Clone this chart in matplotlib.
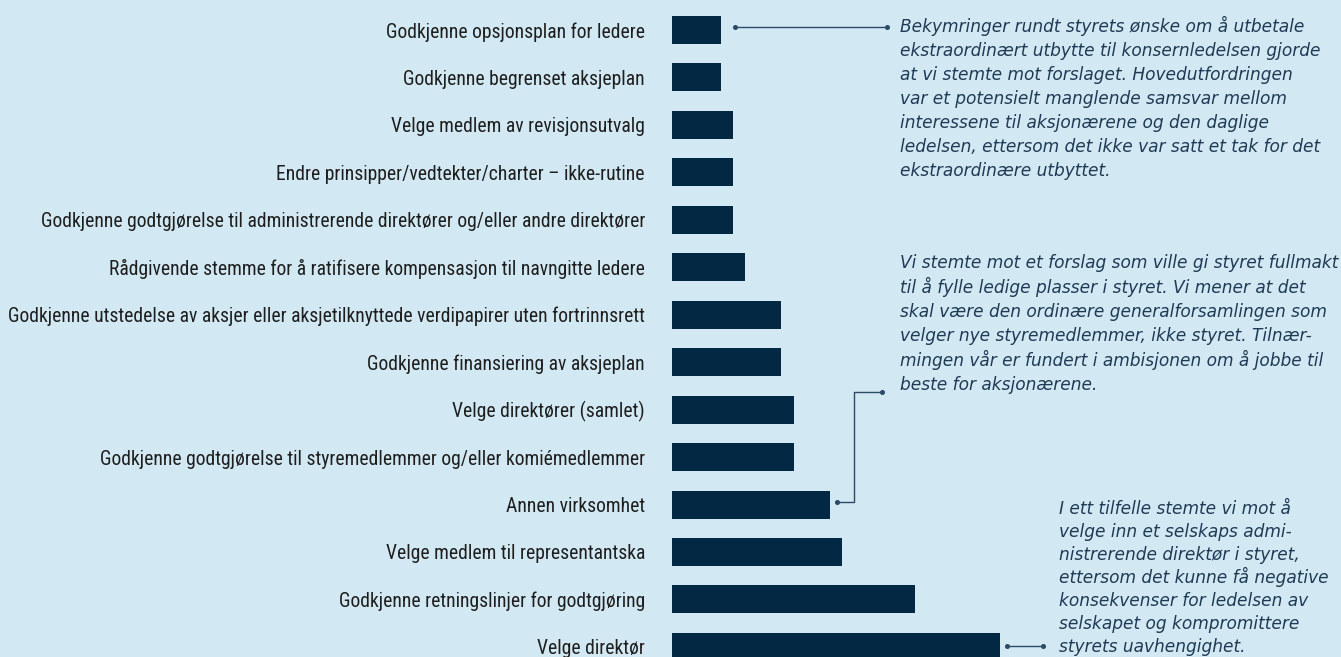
import matplotlib
matplotlib.use("Agg")
import matplotlib.pyplot as plt
from matplotlib import font_manager as fm

# ---------------- data ----------------
categories = [
    "Godkjenne opsjonsplan for ledere",
    "Godkjenne begrenset aksjeplan",
    "Velge medlem av revisjonsutvalg",
    "Endre prinsipper/vedtekter/charter \u2013 ikke-rutine",
    "Godkjenne godtgjørelse til administrerende direktører og/eller andre direktører",
    "Rådgivende stemme for å ratifisere kompensasjon til navngitte ledere",
    "Godkjenne utstedelse av aksjer eller aksjetilknyttede verdipapirer uten fortrinnsrett",
    "Godkjenne finansiering av aksjeplan",
    "Velge direktører (samlet)",
    "Godkjenne godtgjørelse til styremedlemmer og/eller komiémedlemmer",
    "Annen virksomhet",
    "Velge medlem til representantska",
    "Godkjenne retningslinjer for godtgjøring",
    "Velge direktør",
]
values = [4, 4, 5, 5, 5, 6, 9, 9, 10, 10, 13, 14, 20, 27]

note1 = [
    "Bekymringer rundt styrets ønske om å utbetale",
    "ekstraordinært utbytte til konsernledelsen gjorde",
    "at vi stemte mot forslaget. Hovedutfordringen",
    "var et potensielt manglende samsvar mellom",
    "interessene til aksjonærene og den daglige",
    "ledelsen, ettersom det ikke var satt et tak for det",
    "ekstraordinære utbyttet.",
]
note2 = [
    "Vi stemte mot et forslag som ville gi styret fullmakt",
    "til å fylle ledige plasser i styret. Vi mener at det",
    "skal være den ordinære generalforsamlingen som",
    "velger nye styremedlemmer, ikke styret. Tilnær-",
    "mingen vår er fundert i ambisjonen om å jobbe til",
    "beste for aksjonærene.",
]
note3 = [
    "I ett tilfelle stemte vi mot å",
    "velge inn et selskaps admi-",
    "nistrerende direktør i styret,",
    "ettersom det kunne få negative",
    "konsekvenser for ledelsen av",
    "selskapet og kompromittere",
    "styrets uavhengighet.",
]

# ---------------- style ----------------
W, H, DPI = 1341, 657, 100
BG = "#d2e9f3"
BAR = "#032844"
LABEL = "#1e1e1e"
NOTE = "#1f3a55"
LINE = "#2c4a66"

X0 = 672          # px where bars start
PPU = 12.15       # px per unit
ROW0 = 30.0       # px centre of first row
ROWH = 47.45      # px between rows


def pick_label_font():
    names = {f.name for f in fm.fontManager.ttflist}
    for cand in ["Roboto Condensed", "Liberation Sans Narrow",
                 "DejaVu Sans Condensed", "Open Sans Condensed",
                 "Noto Sans Condensed"]:
        if cand in names:
            return fm.FontProperties(family=cand)
    for f in fm.fontManager.ttflist:
        if (f.name in ("Roboto", "Noto Sans", "Open Sans", "DejaVu Sans")
                and str(f.stretch) in ("condensed", "semi-condensed")
                and f.style == "normal" and f.weight in (400, "normal", "regular")):
            return fm.FontProperties(fname=f.fname)
    return fm.FontProperties(family="Roboto")


label_fp = pick_label_font()
note_fp = fm.FontProperties(family="DejaVu Sans", style="oblique")

fig = plt.figure(figsize=(W / DPI, H / DPI), dpi=DPI, facecolor=BG)
ax = fig.add_axes([X0 / W, 0, 1 - X0 / W, 1])
ax.set_facecolor(BG)
ax.patch.set_alpha(0)

rows = list(range(len(categories)))
ax.barh(rows, values, height=28 / ROWH, color=BAR)
ax.set_xlim(0, (W - X0) / PPU)
ax.set_ylim((H - ROW0) / ROWH, -ROW0 / ROWH)
for s in ax.spines.values():
    s.set_visible(False)
ax.set_xticks([])
ax.set_yticks(rows)
ax.set_yticklabels(categories, fontproperties=label_fp, color=LABEL)
ax.tick_params(axis="y", length=0, pad=27 * 72 / DPI)

# fit label size so the longest label spans ~635 px
renderer = fig.canvas.get_renderer()
probe = fig.text(0, 0, categories[6], fontproperties=label_fp, fontsize=10)
w10 = probe.get_window_extent(renderer).width
probe.remove()
label_size = 10 * 635 / w10
for t in ax.get_yticklabels():
    t.set_fontsize(label_size)

# fit note size
probe = fig.text(0, 0, note1[1], fontproperties=note_fp, fontsize=10)
w10n = probe.get_window_extent(renderer).width
probe.remove()
note_size = 10 * 419 / w10n


def px_x(px):
    return (px - X0) / PPU


def px_y(py):
    return (py - ROW0) / ROWH


def note_block(lines, x_px, base0, pitch):
    for k, line in enumerate(lines):
        fig.text(x_px / W, 1 - (base0 + k * pitch) / H, line,
                 fontproperties=note_fp, fontsize=note_size,
                 color=NOTE, ha="left", va="baseline")


note_block(note1, 900, 32.5, 23.9)
note_block(note2, 900, 268.5, 24.3)
note_block(note3, 1059, 513.5, 23.05)

lkw = dict(color=LINE, lw=1.0, marker="o", markersize=2.6,
           markevery=[0, -1], solid_capstyle="butt")
# connector 1 (row 0)
ax.plot([values[0] + 14 / PPU, px_x(887)], [px_y(26.7)] * 2, **lkw)
# connector 2 (row 10, elbow)
ax.plot([values[10] + 7 / PPU, px_x(854), px_x(854), px_x(882)],
        [px_y(501.7), px_y(501.7), px_y(392.3), px_y(392.3)], **lkw)
# connector 3 (row 13)
ax.plot([values[13] + 7 / PPU, px_x(1043)], [px_y(646.3)] * 2, **lkw)

fig.savefig("out.png", dpi=DPI, facecolor=BG)
